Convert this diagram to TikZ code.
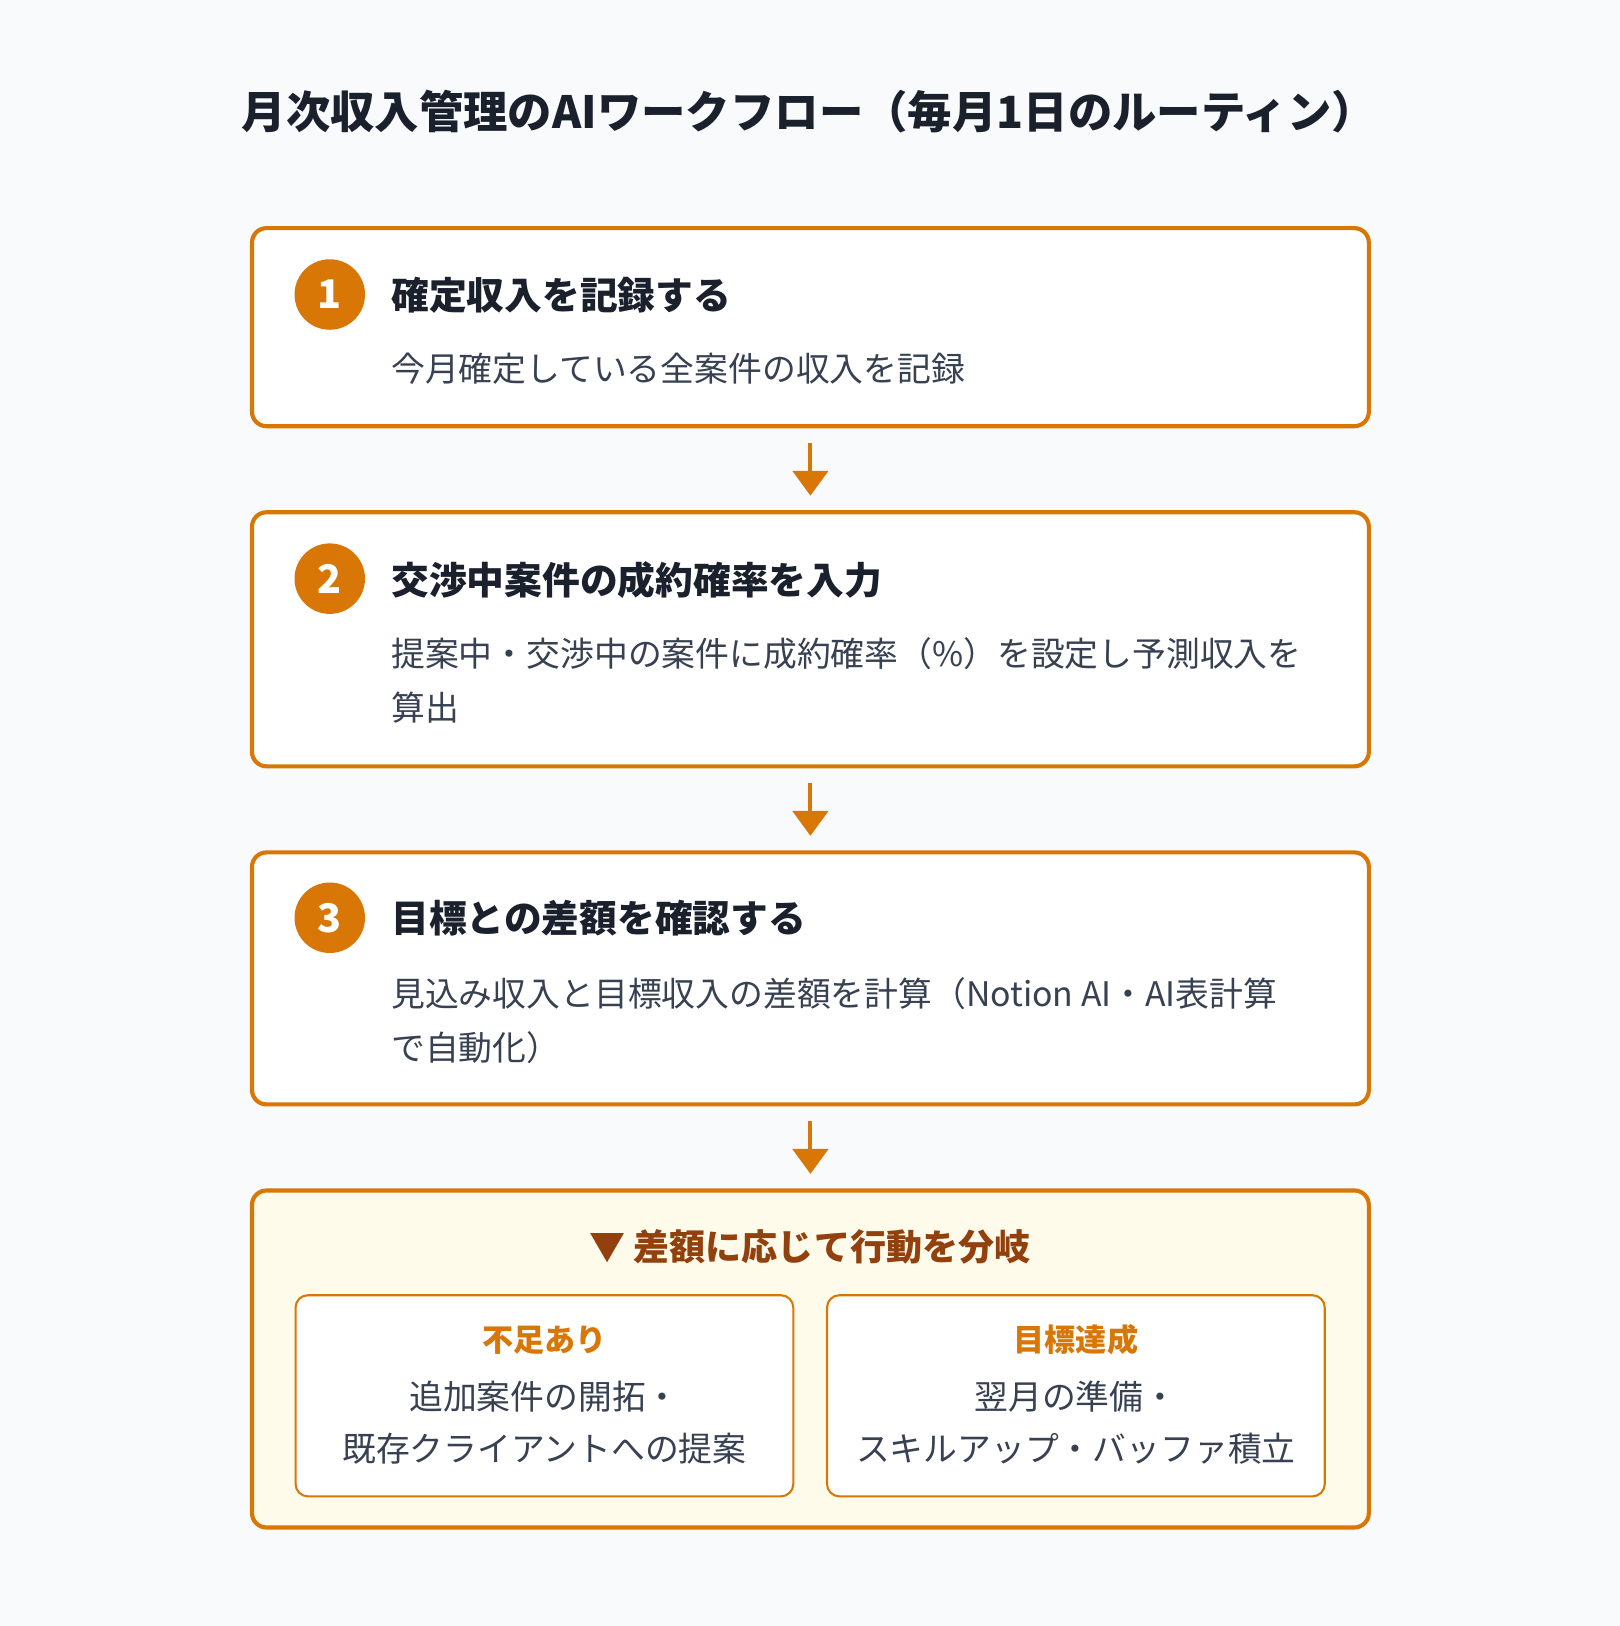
\documentclass[tikz,border=0pt]{standalone}
\usepackage{fontspec}
\setmainfont{Noto Sans CJK JP}
\usetikzlibrary{arrows.meta}
\definecolor{flowOrange}{HTML}{D97706}
\definecolor{flowBack}{HTML}{F8FAFC}
\definecolor{flowPale}{HTML}{FFFBEB}
\definecolor{flowBrown}{HTML}{92400E}
\definecolor{flowInk}{HTML}{1A202C}
\definecolor{flowText}{HTML}{374151}
\begin{document}
\begin{tikzpicture}[x=0.5pt,y=-0.5pt,
	stepbox/.style={draw=flowOrange,line width=2pt,rounded corners=7pt,fill=white,minimum width=538.5pt,inner sep=0pt},
	subbox/.style={draw=flowOrange,line width=1pt,rounded corners=6pt,fill=white,minimum width=240pt,minimum height=97pt,inner sep=0pt},
	badge/.style={circle,fill=flowOrange,text=white,minimum size=34pt,inner sep=0pt,font=\fontsize{19}{19}\selectfont\bfseries},
	steptitle/.style={anchor=west,inner sep=0pt,text=flowInk,font=\fontsize{18.2}{18}\selectfont\bfseries},
	stepbody/.style={anchor=west,inner sep=0pt,align=left,text=flowText,font=\fontsize{16.3}{26}\selectfont},
	subtitle/.style={inner sep=0pt,text=flowOrange,font=\fontsize{15}{15}\selectfont\bfseries},
	subbody/.style={inner sep=0pt,align=center,text=flowText,font=\fontsize{16.3}{25}\selectfont},
	flowarrow/.style={draw=flowOrange,line width=2pt,-{Triangle[width=17pt,length=12pt]},shorten <=7pt,shorten >=7pt}]
	\fill[flowBack] (0,0) rectangle (1562,1568);
	\useasboundingbox (0,0) rectangle (1562,1568);
	\node[text=flowInk,font=\fontsize{21.4}{21}\selectfont\bfseries] (title) at (780,108) {月次収入管理のAIワークフロー（毎月1日のルーティン）};

	\node[stepbox,minimum height=95.5pt] (step1) at (781.5,315.5) {};
	\node[badge] (badge1) at (318,284) {1};
	\node[steptitle] (head1) at (377,285) {確定収入を記録する};
	\node[stepbody] (body1) at (377,356) {今月確定している全案件の収入を記録};

	\node[stepbox,minimum height=122.5pt] (step2) at (781.5,616.5) {};
	\node[badge] (badge2) at (318,558) {2};
	\node[steptitle] (head2) at (377,559) {交渉中案件の成約確率を入力};
	\node[stepbody] (body2) at (377,656) {提案中・交渉中の案件に成約確率（\%）を設定し予測収入を\\算出};

	\node[stepbox,minimum height=121.5pt] (step3) at (781.5,943.5) {};
	\node[badge] (badge3) at (318,885) {3};
	\node[steptitle] (head3) at (377,885) {目標との差額を確認する};
	\node[stepbody] (body3) at (377,984) {見込み収入と目標収入の差額を計算（Notion AI・AI表計算\\で自動化）};

	\node[stepbox,fill=flowPale,minimum height=162.5pt] (branch) at (781.5,1310.5) {};
	\node[inner sep=0pt,text=flowBrown,font=\fontsize{17.4}{17}\selectfont\bfseries] (branchhead) at (781,1202) {▼ 差額に応じて行動を分岐};
	\node[subbox] (shortbox) at (525,1346) {};
	\node[subtitle] (shorthead) at (525,1292) {不足あり};
	\node[subbody] (shortbody) at (525,1372) {追加案件の開拓・\\既存クライアントへの提案};
	\node[subbox] (goalbox) at (1037.5,1346) {};
	\node[subtitle] (goalhead) at (1037.5,1292) {目標達成};
	\node[subbody] (goalbody) at (1037.5,1372) {翌月の準備・\\スキルアップ・バッファ積立};

	\draw[flowarrow] (step1) -- (step2);
	\draw[flowarrow] (step2) -- (step3);
	\draw[flowarrow] (step3) -- (branch);
\end{tikzpicture}
\end{document}
